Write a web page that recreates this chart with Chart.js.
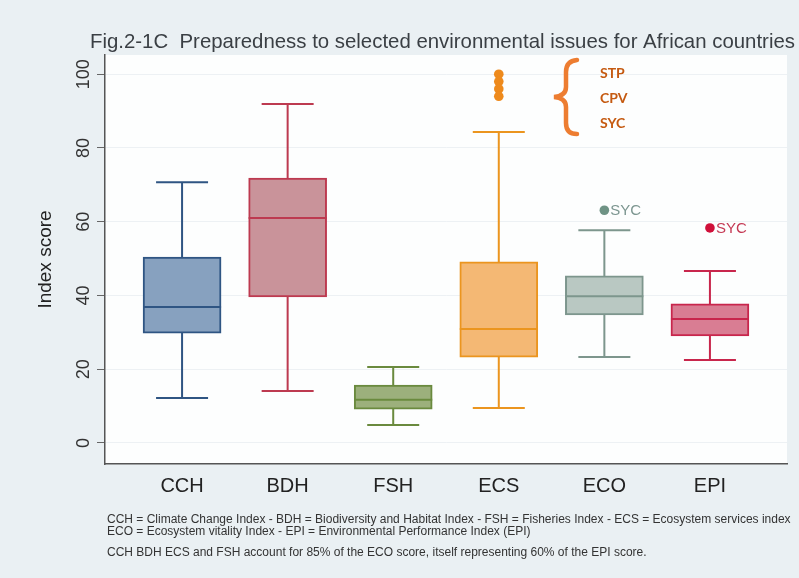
<!DOCTYPE html>
<html>
<head>
<meta charset="utf-8">
<script src="https://cdn.jsdelivr.net/npm/chart.js@4"></script>
<style>
  html, body { margin: 0; padding: 0; background: #eaf0f3; }
  canvas { display: block; }
</style>
</head>
<body>
<canvas id="boxes" width="799" height="578"></canvas>
<script>
var categories = ["CCH", "BDH", "FSH", "ECS", "ECO", "EPI"];
var whiskerLow = [12.2, 14.1, 4.9, 9.5, 23.3, 22.5];
var q1 = [29.8, 39.6, 9.2, 23.3, 34.7, 29.0];
var median = [36.9, 61.0, 11.7, 30.9, 39.8, 33.6];
var q3 = [50.4, 71.8, 15.7, 49.1, 45.3, 37.7];
var whiskerHigh = [70.7, 91.9, 20.6, 84.3, 57.7, 46.6];

var outlierCat = ["ECS", "ECS", "ECS", "ECS", "ECO", "EPI"];
var outlierValues = [100, 98, 96, 94, 63.1, 58.3];
var outlierLabels = ["", "", "", "", "SYC", "SYC"];

var yTicks = [0, 20, 40, 60, 80, 100];

var fillColors = ["#87a1bf", "#c9939a", "#9cb07c", "#f4b874", "#b9c8c2", "#d97d93"];
var lineColors = ["#2f5583", "#bd3a50", "#6a8a3e", "#eb951f", "#7d968d", "#c8264c"];
var outlierColors = ["#ee8a1c", "#ee8a1c", "#ee8a1c", "#ee8a1c", "#6f9385", "#d0103a"];
var outlierTextColors = ["", "", "", "", "#7c9690", "#c53a55"];

var boxParts = {
  id: "boxParts",
  beforeDraw: function (chart) {
    var a = chart.chartArea;
    var ctx = chart.ctx;
    ctx.save();
    ctx.fillStyle = "#fdfefe";
    ctx.fillRect(a.left, a.top, a.right - a.left, a.bottom - a.top);
    ctx.restore();
  },
  afterDatasetsDraw: function (chart) {
    var ctx = chart.ctx;
    var x = chart.scales.x, y = chart.scales.y;
    ctx.save();
    ctx.lineWidth = 2;
    categories.forEach(function (c, i) {
      var cx = x.getPixelForValue(i + 1);
      ctx.strokeStyle = lineColors[i];
      ctx.beginPath();
      ctx.moveTo(cx, y.getPixelForValue(q3[i]));
      ctx.lineTo(cx, y.getPixelForValue(whiskerHigh[i]));
      ctx.moveTo(cx, y.getPixelForValue(q1[i]));
      ctx.lineTo(cx, y.getPixelForValue(whiskerLow[i]));
      ctx.moveTo(cx - 26, y.getPixelForValue(whiskerHigh[i]));
      ctx.lineTo(cx + 26, y.getPixelForValue(whiskerHigh[i]));
      ctx.moveTo(cx - 26, y.getPixelForValue(whiskerLow[i]));
      ctx.lineTo(cx + 26, y.getPixelForValue(whiskerLow[i]));
      ctx.moveTo(cx - 39, y.getPixelForValue(median[i]));
      ctx.lineTo(cx + 39, y.getPixelForValue(median[i]));
      ctx.stroke();
    });

    // labels next to outliers
    ctx.font = "15px 'Liberation Sans', Arial";
    ctx.textBaseline = "middle";
    ctx.textAlign = "left";
    outlierLabels.forEach(function (t, i) {
      if (!t) return;
      var px = x.getPixelForValue(categories.indexOf(outlierCat[i]) + 1);
      var py = y.getPixelForValue(outlierValues[i]);
      ctx.fillStyle = outlierTextColors[i];
      ctx.fillText(t, px + 6, py + 1);
    });
    ctx.restore();
  },
  afterDraw: function (chart) {
    var ctx = chart.ctx;
    ctx.save();
    // title
    ctx.fillStyle = "#3a3f44";
    ctx.font = "20.4px 'Liberation Sans', Arial";
    ctx.textBaseline = "alphabetic";
    ctx.fillText("Fig.2-1C  Preparedness to selected environmental issues for African countries", 90, 48);

    // brace annotation
    ctx.strokeStyle = "#ed7d31";
    ctx.lineWidth = 4.5;
    ctx.lineCap = "round";
    ctx.beginPath();
    ctx.moveTo(577, 60);
    ctx.quadraticCurveTo(566, 61, 566, 72);
    ctx.lineTo(566, 87);
    ctx.quadraticCurveTo(566, 96, 554, 97);
    ctx.quadraticCurveTo(566, 98, 566, 107);
    ctx.lineTo(566, 123);
    ctx.quadraticCurveTo(566, 134, 577, 134);
    ctx.stroke();
    ctx.fillStyle = "#c55a11";
    ctx.font = "bold 14px Lato, 'Open Sans', sans-serif";
    ctx.textBaseline = "middle";
    ctx.fillText("STP", 600, 73);
    ctx.fillText("CPV", 600, 98);
    ctx.fillText("SYC", 600, 123);

    // footnotes
    ctx.fillStyle = "#333";
    ctx.font = "12px 'Liberation Sans', Arial";
    ctx.fillText("CCH = Climate Change Index - BDH = Biodiversity and Habitat Index - FSH = Fisheries Index - ECS = Ecosystem services index", 107, 520);
    ctx.fillText("ECO = Ecosystem vitality Index - EPI = Environmental Performance Index (EPI)", 107, 532);
    ctx.fillText("CCH BDH ECS and FSH account for 85% of the ECO score, itself representing 60% of the EPI score.", 107, 553);
    ctx.restore();
  }
};

var boxData = categories.map(function (c, i) {
  return { x: i + 1, y: [q1[i], q3[i]] };
});
var outlierData = outlierCat.map(function (c, i) {
  return { x: categories.indexOf(c) + 1, y: outlierValues[i] };
});

new Chart("boxes", {
  type: "bar",
  data: {
    datasets: [{
      data: boxData,
      backgroundColor: fillColors,
      borderColor: lineColors,
      borderWidth: 2,
      borderSkipped: false,
      barThickness: 78
    }, {
      type: "scatter",
      data: outlierData,
      pointRadius: 4.8,
      pointBackgroundColor: outlierColors,
      pointBorderColor: outlierColors,
      pointBorderWidth: 0
    }]
  },
  options: {
    responsive: false,
    animation: false,
    layout: { padding: { top: 55, right: 12, left: 0, bottom: 0 } },
    plugins: {
      legend: { display: false },
      tooltip: { enabled: false }
    },
    scales: {
      x: {
        type: "linear",
        offset: false,
        min: 0.27,
        max: 6.73,
        afterBuildTicks: function (scale) {
          scale.ticks = categories.map(function (c, i) { return { value: i + 1 }; });
        },
        afterFit: function (scale) { scale.height = 114; },
        ticks: {
          callback: function (v) { return categories[v - 1]; },
          font: { family: "'Liberation Sans', Arial", size: 20 },
          color: "#222",
          padding: 10,
          maxRotation: 0,
          autoSkip: false
        },
        grid: { display: false, drawTicks: false, offset: false },
        border: { display: true, color: "#555", width: 1.5 }
      },
      y: {
        min: -5.7,
        max: 105.2,
        afterBuildTicks: function (scale) {
          scale.ticks = yTicks.map(function (v) { return { value: v }; });
        },
        afterFit: function (scale) { scale.width = 105; },
        ticks: {
          minRotation: 90,
          maxRotation: 90,
          crossAlign: "center",
          padding: -2,
          font: { family: "'Liberation Sans', Arial", size: 18 },
          color: "#333"
        },
        grid: { color: "#edf1f4", tickColor: "#666", tickLength: 8, lineWidth: 1 },
        border: { color: "#555", width: 1.5 },
        title: {
          display: true,
          text: "Index score",
          font: { family: "'Liberation Sans', Arial", size: 19 },
          color: "#222",
          padding: { top: 34, bottom: 0 }
        }
      }
    }
  },
  plugins: [boxParts]
});
</script>
</body>
</html>
